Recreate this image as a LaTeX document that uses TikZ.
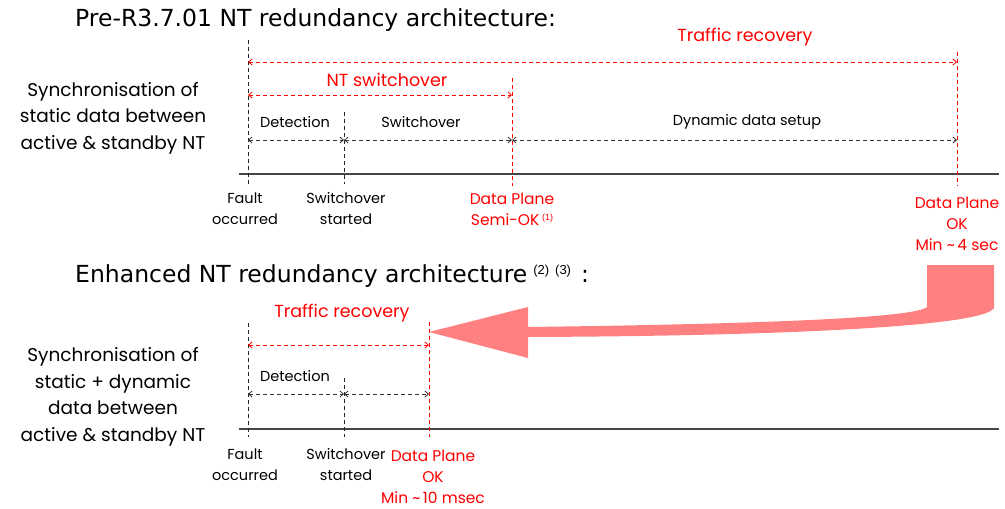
\documentclass[tikz,border=0pt]{standalone}
\usepackage{fontspec}
\setmainfont{Poppins}
\newfontfamily\titlefont{DejaVu Sans}
\newfontfamily\supfont{Liberation Sans}
\usetikzlibrary{arrows.meta}
\definecolor{pinkarrow}{RGB}{255,128,128}
\definecolor{axisgray}{RGB}{70,70,70}
\begin{document}
\begin{tikzpicture}[x=1pt,y=-1pt,
  title/.style={anchor=base west,font=\titlefont\fontsize{23.5}{26}\selectfont,inner sep=0},
  side/.style={align=center,font=\fontsize{18.5}{26.5}\selectfont,inner sep=0},
  lbl/.style={align=center,font=\fontsize{14.5}{21}\selectfont,inner sep=0},
  rlbl/.style={lbl,text=red,font=\fontsize{15.5}{21}\selectfont},
  head/.style={font=\fontsize{17.5}{20}\selectfont,inner sep=0,text=red},
  vline/.style={dash pattern=on 4pt off 3pt, line width=0.8pt, black!85},
  rvline/.style={dash pattern=on 4pt off 3pt, line width=0.8pt, red},
  span/.style={dash pattern=on 4pt off 3pt, line width=0.8pt, black!80,
    {Straight Barb[length=3.5pt,width=6pt]}-{Straight Barb[length=3.5pt,width=6pt]}},
  rspan/.style={span, red},
  axis/.style={line width=1.2pt, axisgray}]
\useasboundingbox (0,0) rectangle (1005,509);

% ---------------- top section ----------------
\node[title] (t1) at (75,26) {Pre-R3.7.01 NT redundancy architecture:};
\node[side] (s1) at (113,118) {Synchronisation of\\static data between\\active \& standby NT};

\coordinate (L1) at (239,174);
\coordinate (R1) at (999,174);
\draw[axis] (L1) -- (R1);

\coordinate (A1t) at (248,40);  \coordinate (A1b) at (248,184);
\coordinate (B1t) at (344,112); \coordinate (B1b) at (344,184);
\coordinate (C1t) at (512,78);  \coordinate (C1b) at (512,186);
\coordinate (D1t) at (957,52);  \coordinate (D1b) at (957,186);
\draw[vline] (A1t) -- (A1b);
\draw[vline] (B1t) -- (B1b);
\draw[rvline] (C1t) -- (C1b);
\draw[rvline] (D1t) -- (D1b);

\coordinate (tr1a) at (248,62);  \coordinate (tr1b) at (957,62);
\coordinate (sw1a) at (248,95);  \coordinate (sw1b) at (512,95);
\coordinate (p1a) at (248,140);  \coordinate (p1b) at (344,140);
\coordinate (p1c) at (512,140);  \coordinate (p1d) at (957,140);
\draw[rspan] (tr1a) -- (tr1b);
\draw[rspan] (sw1a) -- (sw1b);
\draw[span] (p1a) -- (p1b);
\draw[span] (p1b) -- (p1c);
\draw[span] (p1c) -- (p1d);

\node[head] (trl1) at (745,37) {Traffic recovery};
\node[head] (swl1) at (387,80) {NT switchover};
\node[lbl] (det1) at (295,122) {Detection};
\node[lbl] (swo1) at (421,122) {Switchover};
\node[lbl] (dyn1) at (747,122) {Dynamic data setup};

\node[lbl] (fo1) at (245,209) {Fault\\occurred};
\node[lbl] (ss1) at (346,209) {Switchover\\started};
\node[rlbl] (dp1) at (512,209) {Data Plane\\Semi-OK\,\raisebox{5pt}{\supfont\fontsize{9}{9}\selectfont(1)}};
\node[rlbl] (ok1) at (957,224) {Data Plane\\OK\\Min \textasciitilde\,4 sec};

% ---------------- bottom section ----------------
\node[title] (t2) at (75,282) {Enhanced NT redundancy architecture\hspace{6pt}\raisebox{8pt}{\supfont\fontsize{13}{13}\selectfont(2)\hspace{6pt}(3)}\hspace{10pt}:};
\node[side] (s2) at (113,397) {Synchronisation of\\static + dynamic\\data between\\active \& standby NT};

\coordinate (L2) at (239,429);
\coordinate (R2) at (999,429);
\draw[axis] (L2) -- (R2);

\coordinate (A2t) at (248,323); \coordinate (A2b) at (248,437);
\coordinate (B2t) at (344,378); \coordinate (B2b) at (344,437);
\coordinate (C2t) at (429,322); \coordinate (C2b) at (429,437);
\draw[vline] (A2t) -- (A2b);
\draw[vline] (B2t) -- (B2b);
\draw[rvline] (C2t) -- (C2b);

\coordinate (tr2a) at (248,345); \coordinate (tr2b) at (429,345);
\coordinate (p2a) at (248,394);  \coordinate (p2b) at (344,394);
\coordinate (p2c) at (429,394);
\draw[rspan] (tr2a) -- (tr2b);
\draw[span] (p2a) -- (p2b);
\draw[span] (p2b) -- (p2c);

\node[head] (trl2) at (342,313) {Traffic recovery};
\node[lbl] (det2) at (295,376) {Detection};

\node[lbl] (fo2) at (245,465) {Fault\\occurred};
\node[lbl] (ss2) at (346,465) {Switchover\\started};
\node[rlbl] (ok2) at (433,477) {Data Plane\\OK\\Min \textasciitilde\,10 msec};

% ---------------- big pink arrow ----------------
\fill[pinkarrow] (429,332) -- (528,307) -- (528,327)
  .. controls (760,324) and (915,318) .. (927,307)
  -- (927,265) -- (994,265) -- (994,308)
  .. controls (985,326) and (790,336) .. (528,337)
  -- (528,358) -- cycle;
\end{tikzpicture}
\end{document}
